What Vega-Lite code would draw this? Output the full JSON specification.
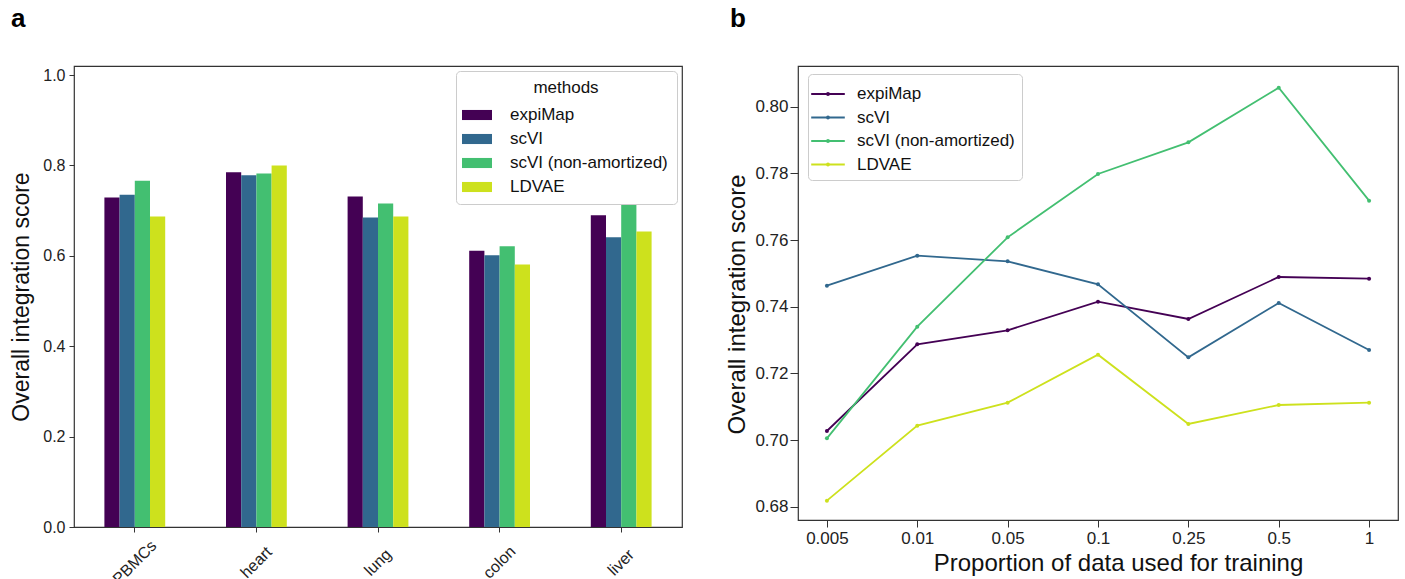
{
  "$schema": "https://vega.github.io/schema/vega-lite/v6.json",
  "padding": {"left": 10, "top": 5, "right": 8, "bottom": 0},
  "background": "white",
  "config": {
    "font": "Liberation Sans",
    "view": {"stroke": "#333333", "strokeWidth": 1.2},
    "axis": {
      "grid": false,
      "domain": false,
      "tickColor": "#333333",
      "labelColor": "#222222",
      "titleColor": "#111111",
      "titleFontWeight": "normal",
      "labelFont": "Liberation Sans",
      "titleFont": "Liberation Sans"
    },
    "legend": {"labelFont": "Liberation Sans", "titleFont": "Liberation Sans"},
    "title": {"font": "Liberation Sans"}
  },
  "datasets": {
    "bars": [
      {"tissue": "PBMCs", "method": "expiMap", "score": 0.729},
      {"tissue": "PBMCs", "method": "scVI", "score": 0.735},
      {"tissue": "PBMCs", "method": "scVI (non-amortized)", "score": 0.766},
      {"tissue": "PBMCs", "method": "LDVAE", "score": 0.687},
      {"tissue": "heart", "method": "expiMap", "score": 0.785},
      {"tissue": "heart", "method": "scVI", "score": 0.778},
      {"tissue": "heart", "method": "scVI (non-amortized)", "score": 0.782},
      {"tissue": "heart", "method": "LDVAE", "score": 0.800},
      {"tissue": "lung", "method": "expiMap", "score": 0.731},
      {"tissue": "lung", "method": "scVI", "score": 0.685},
      {"tissue": "lung", "method": "scVI (non-amortized)", "score": 0.716},
      {"tissue": "lung", "method": "LDVAE", "score": 0.687},
      {"tissue": "colon", "method": "expiMap", "score": 0.611},
      {"tissue": "colon", "method": "scVI", "score": 0.601},
      {"tissue": "colon", "method": "scVI (non-amortized)", "score": 0.621},
      {"tissue": "colon", "method": "LDVAE", "score": 0.581},
      {"tissue": "liver", "method": "expiMap", "score": 0.690},
      {"tissue": "liver", "method": "scVI", "score": 0.641},
      {"tissue": "liver", "method": "scVI (non-amortized)", "score": 0.713},
      {"tissue": "liver", "method": "LDVAE", "score": 0.654}
    ],
    "lines": [
      {"prop": "0.005", "method": "expiMap", "score": 0.7027},
      {"prop": "0.01", "method": "expiMap", "score": 0.7287},
      {"prop": "0.05", "method": "expiMap", "score": 0.7329},
      {"prop": "0.1", "method": "expiMap", "score": 0.7415},
      {"prop": "0.25", "method": "expiMap", "score": 0.7363},
      {"prop": "0.5", "method": "expiMap", "score": 0.7489},
      {"prop": "1", "method": "expiMap", "score": 0.7484},
      {"prop": "0.005", "method": "scVI", "score": 0.7463},
      {"prop": "0.01", "method": "scVI", "score": 0.7553},
      {"prop": "0.05", "method": "scVI", "score": 0.7536},
      {"prop": "0.1", "method": "scVI", "score": 0.7467},
      {"prop": "0.25", "method": "scVI", "score": 0.7248},
      {"prop": "0.5", "method": "scVI", "score": 0.7411},
      {"prop": "1", "method": "scVI", "score": 0.7270},
      {"prop": "0.005", "method": "scVI (non-amortized)", "score": 0.7005},
      {"prop": "0.01", "method": "scVI (non-amortized)", "score": 0.7340},
      {"prop": "0.05", "method": "scVI (non-amortized)", "score": 0.7608},
      {"prop": "0.1", "method": "scVI (non-amortized)", "score": 0.7798},
      {"prop": "0.25", "method": "scVI (non-amortized)", "score": 0.7893},
      {"prop": "0.5", "method": "scVI (non-amortized)", "score": 0.8057},
      {"prop": "1", "method": "scVI (non-amortized)", "score": 0.7718},
      {"prop": "0.005", "method": "LDVAE", "score": 0.6818},
      {"prop": "0.01", "method": "LDVAE", "score": 0.7043},
      {"prop": "0.05", "method": "LDVAE", "score": 0.7112},
      {"prop": "0.1", "method": "LDVAE", "score": 0.7256},
      {"prop": "0.25", "method": "LDVAE", "score": 0.7048},
      {"prop": "0.5", "method": "LDVAE", "score": 0.7105},
      {"prop": "1", "method": "LDVAE", "score": 0.7112}
    ]
  },
  "hconcat": [
    {
      "width": 608,
      "height": 461,
      "title": {"text": "a", "anchor": "start", "frame": "group", "dx": -63, "offset": 13, "baseline": "alphabetic", "fontSize": 26, "fontWeight": "bold", "color": "black"},
      "data": {"name": "bars"},
      "mark": {"type": "bar"},
      "encoding": {
        "x": {
          "field": "tissue", "type": "nominal",
          "sort": ["PBMCs", "heart", "lung", "colon", "liver"],
          "scale": {"paddingInner": 0.5, "paddingOuter": 0.25},
          "axis": {"title": null, "labelAngle": -45, "labelAlign": "center", "labelBaseline": "middle", "labelPadding": 30, "labelFontSize": 16, "tickSize": 5}
        },
        "xOffset": {
          "field": "method", "type": "nominal",
          "sort": ["expiMap", "scVI", "scVI (non-amortized)", "LDVAE"],
          "scale": {"paddingInner": 0, "paddingOuter": 0}
        },
        "y": {
          "field": "score", "type": "quantitative",
          "scale": {"domain": [0, 1.02], "nice": false},
          "axis": {"title": "Overall integration score", "values": [0, 0.2, 0.4, 0.6, 0.8, 1.0], "format": ".1f", "labelFontSize": 16, "titleFontSize": 23, "tickSize": 5, "labelPadding": 4, "titlePadding": 9}
        },
        "color": {
          "field": "method", "type": "nominal",
          "scale": {"domain": ["expiMap", "scVI", "scVI (non-amortized)", "LDVAE"], "range": ["#440154", "#31688e", "#43bf71", "#cde11d"]},
          "legend": {
            "title": "methods", "orient": "none", "legendX": 382, "legendY": 5,
            "titleAnchor": "middle", "titleFontSize": 17, "titleFontWeight": "normal", "titleColor": "#111111", "titlePadding": 6,
            "labelFontSize": 17, "labelColor": "#111111", "labelOffset": 21,
            "symbolType": "M-1.25,-0.42H1.25V0.42H-1.25Z", "symbolSize": 576, "symbolStrokeWidth": 0, "symbolOpacity": 1,
            "rowPadding": 4, "padding": 9,
            "fillColor": "white", "strokeColor": "#cccccc", "cornerRadius": 4
          }
        }
      }
    },
    {
      "width": 600,
      "height": 454,
      "title": {"text": "b", "anchor": "start", "frame": "group", "dx": -68, "offset": 13, "baseline": "alphabetic", "fontSize": 26, "fontWeight": "bold", "color": "black"},
      "data": {"name": "lines"},
      "mark": {"type": "line", "strokeWidth": 1.8, "point": {"size": 16, "filled": true}},
      "encoding": {
        "x": {
          "field": "prop", "type": "ordinal",
          "sort": ["0.005", "0.01", "0.05", "0.1", "0.25", "0.5", "1"],
          "scale": {"type": "point", "padding": 0.32},
          "axis": {"title": "Proportion of data used for training", "labelAngle": 0, "labelFontSize": 17, "titleFontSize": 24, "tickSize": 7, "labelPadding": 3, "titleX": 320, "titleY": 50, "titleBaseline": "alphabetic"}
        },
        "y": {
          "field": "score", "type": "quantitative",
          "scale": {"domain": [0.676, 0.8122], "nice": false, "zero": false},
          "axis": {"title": "Overall integration score", "values": [0.68, 0.70, 0.72, 0.74, 0.76, 0.78, 0.80], "format": ".2f", "labelFontSize": 17, "titleFontSize": 24, "tickSize": 8, "labelPadding": 2, "titleX": -49, "titleY": 238, "titleBaseline": "bottom", "titleAngle": -90}
        },
        "color": {
          "field": "method", "type": "nominal",
          "scale": {"domain": ["expiMap", "scVI", "scVI (non-amortized)", "LDVAE"], "range": ["#440154", "#31688e", "#43bf71", "#cde11d"]},
          "sort": ["expiMap", "scVI", "scVI (non-amortized)", "LDVAE"],
          "legend": {
            "title": null, "orient": "none", "legendX": 10, "legendY": 8,
            "labelFontSize": 17, "labelColor": "#111111", "labelOffset": 16,
            "symbolType": "M-1.4,0H1.4M0,-0.08A0.08,0.08 0 1,1 0,0.08A0.08,0.08 0 1,1 0,-0.08", "symbolSize": 576, "symbolStrokeWidth": 2, "symbolFillColor": "transparent",
            "rowPadding": 2.5, "padding": 7,
            "fillColor": "white", "strokeColor": "#cccccc", "cornerRadius": 4
          }
        }
      }
    }
  ],
  "resolve": {"scale": {"color": "independent"}, "legend": {"color": "independent"}},
  "bounds": "flush",
  "spacing": 116
}
